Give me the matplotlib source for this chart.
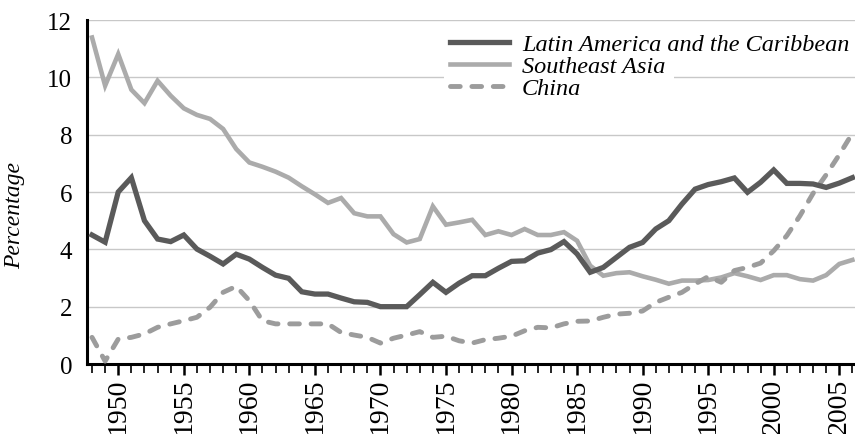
import numpy as np
import matplotlib
matplotlib.use("Agg")
import matplotlib.pyplot as plt
from matplotlib.patches import Rectangle
from matplotlib.ticker import MultipleLocator

# yearly values
years = list(range(1948, 2007))

latin_america = [4.5, 4.25, 6.0, 6.5, 5.0, 4.36, 4.27, 4.5, 4.01, 3.76,
                 3.49, 3.83, 3.66, 3.37, 3.1, 2.99, 2.52, 2.44, 2.44, 2.3,
                 2.17, 2.15, 2.0, 2.0, 2.0, 2.42, 2.85, 2.5, 2.82, 3.08,
                 3.08, 3.34, 3.58, 3.6, 3.87, 3.99, 4.27, 3.84, 3.2, 3.37,
                 3.72, 4.07, 4.24, 4.71, 5.0, 5.58, 6.1, 6.26, 6.36, 6.49,
                 5.99, 6.34, 6.77, 6.3, 6.3, 6.28, 6.16, 6.31, 6.5]

southeast_asia = [11.39, 9.71, 10.81, 9.57, 9.1, 9.88, 9.36, 8.92, 8.69, 8.55,
                  8.2, 7.5, 7.03, 6.88, 6.71, 6.5, 6.2, 5.92, 5.62, 5.79,
                  5.26, 5.15, 5.15, 4.53, 4.24, 4.36, 5.5, 4.86, 4.94, 5.03,
                  4.5, 4.63, 4.5, 4.71, 4.5, 4.5, 4.6, 4.3, 3.43, 3.08,
                  3.17, 3.2, 3.06, 2.94, 2.8, 2.91, 2.91, 2.93, 3.02, 3.17,
                  3.06, 2.93, 3.1, 3.1, 2.96, 2.91, 3.1, 3.49, 3.63]

china = [0.93, 0.1, 0.87, 0.93, 1.05, 1.28, 1.4, 1.51, 1.63, 1.98,
         2.5, 2.71, 2.21, 1.51, 1.4, 1.4, 1.4, 1.4, 1.4, 1.1,
         1.01, 0.93, 0.73, 0.9, 1.01, 1.13, 0.93, 0.97, 0.81, 0.73,
         0.85, 0.9, 0.97, 1.16, 1.28, 1.26, 1.4, 1.49, 1.5, 1.63,
         1.74, 1.77, 1.85, 2.15, 2.33, 2.5, 2.79, 3.05, 2.85, 3.26,
         3.37, 3.52, 3.95, 4.48, 5.17, 5.95, 6.6, 7.3, 8.05]

plt.rcParams['font.family'] = ['Liberation Serif', 'DejaVu Serif']

fig = plt.figure(figsize=(8.55, 4.35), dpi=100)
ax = fig.add_axes([0.1021, 0.1609, 0.8979, 0.7908])

ax.plot(years, latin_america, color='#5a5a5a', lw=3.8,
        solid_joinstyle='miter', label='Latin America and the Caribbean', zorder=4)
ax.plot(years, southeast_asia, color='#ababab', lw=3.3,
        solid_joinstyle='miter', label='Southeast Asia', zorder=3)
ax.plot(years, china, color='#9c9c9c', lw=3.5, ls=(0, (2.0, 2.4)),
        dash_capstyle='round', label='China', zorder=3)

ax.set_xlim(1947.64, 2006.2)
ax.set_ylim(0, 12)

# grid
ax.set_axisbelow(True)
ax.yaxis.grid(True, color='#c8c8c8', lw=1.0)
ax.set_yticks(np.arange(0, 13, 2))

for s in ['top', 'right']:
    ax.spines[s].set_visible(False)
for s in ['left', 'bottom']:
    ax.spines[s].set_linewidth(2.2)
    ax.spines[s].set_color('black')

ax.xaxis.set_major_locator(MultipleLocator(5))
ax.xaxis.set_minor_locator(MultipleLocator(1))
ax.tick_params(axis='x', which='major', length=8, width=1.8, pad=2,
               labelsize=20, labelrotation=90)
ax.tick_params(axis='x', which='minor', length=6.5, width=1.2)
ax.tick_params(axis='y', length=0, pad=11, labelsize=18)

ax.set_ylabel('Percentage', fontsize=17, style='italic')
ax.yaxis.set_label_coords(-0.081, 0.436)

# white patch behind the legend entries (hides part of the gridline)
ax.add_patch(Rectangle((0.464, 0.74), 0.30, 0.2, transform=ax.transAxes,
                       facecolor='white', edgecolor='none', zorder=1))

leg = ax.legend(loc='upper left', bbox_to_anchor=(0.4727, 0.962),
                frameon=False, prop={'size': 17.5, 'style': 'italic'},
                handlelength=2.4, handletextpad=0.55, labelspacing=0.0,
                borderpad=0, borderaxespad=0)

fig.savefig('out.png', dpi=100)
